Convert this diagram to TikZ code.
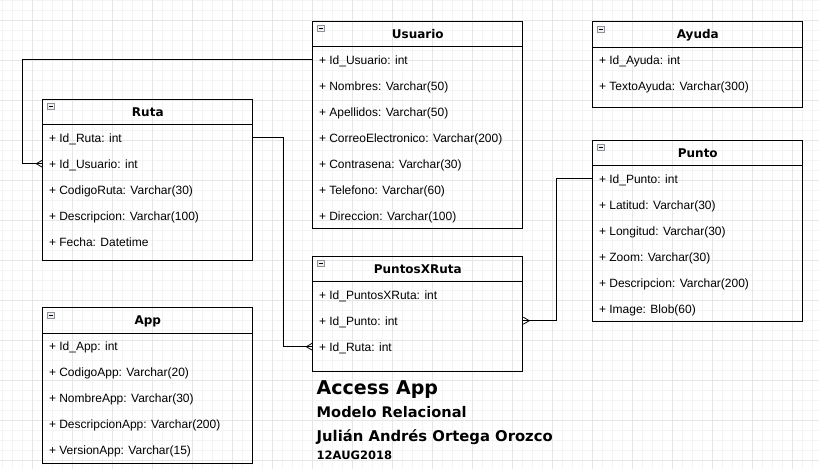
\documentclass[tikz,border=0pt]{standalone}
\usepackage{fontspec}
\setmainfont{Liberation Sans}
\newfontfamily\negrita{DejaVu Sans}

\definecolor{rejilla}{HTML}{F4F4F4}
\definecolor{rejillamayor}{HTML}{E6E6E6}
\definecolor{icono}{HTML}{8C919A}

\tikzset{
  tabla/.style={draw, line width=1pt, anchor=north west, minimum width=210pt, inner sep=0pt},
  cabecera/.style={inner sep=0pt, text height=8.8pt, text depth=0pt,
    font=\negrita\bfseries\fontsize{12pt}{14pt}\selectfont},
  fila/.style={anchor=west, inner sep=0pt, text height=8.6pt, text depth=0pt,
    font=\fontsize{12pt}{14pt}\selectfont},
  titulo/.style={anchor=base west, inner sep=0pt, font=\negrita\bfseries},
  enlace/.style={line width=1pt},
  pata/.pic={\draw[line width=0.8pt] (-6,0) -- (0,-3.5) (-6,0) -- (0,3.5);},
  menos/.pic={\draw[icono, fill=gray!12, line width=0.6pt] (0,0) rectangle (7,6);
    \draw[line width=0.8pt] (1.5,3) -- (5.5,3);}
}

\begin{document}
\begin{tikzpicture}[x=1pt,y=-1pt]
\useasboundingbox (0,0) rectangle (819,469);
\fill[white] (0,0) rectangle (819,469);
% rejilla
\foreach \g in {2,12,...,812} \draw[rejilla, line width=0.8pt] (\g,0) -- (\g,469);
\foreach \g in {0,10,...,460} \draw[rejilla, line width=0.8pt] (0,\g) -- (819,\g);
\foreach \g in {32,72,...,792} \draw[rejillamayor, line width=0.8pt] (\g,0) -- (\g,469);
\foreach \g in {20,60,...,460} \draw[rejillamayor, line width=0.8pt] (0,\g) -- (819,\g);

% Usuario
\node[tabla, minimum height=207.6pt] (usuario) at (312.3,20.7) {};
\draw[line width=1pt] ([yshift=-26pt]usuario.north west) -- ([yshift=-26pt]usuario.north east);
\node[cabecera] (usuario-t) at ([yshift=-13pt]usuario.north) {Usuario};
\pic at ([shift={(5,5)}]usuario.north west) {menos};
\foreach \t [count=\i] in {Id\_Usuario: int, Nombres: Varchar(50), Apellidos: Varchar(50),
  CorreoElectronico: Varchar(200), Contrasena: Varchar(30), Telefono: Varchar(60),
  Direccion: Varchar(100)}
  \node[fila] (usuario-\i) at ([xshift=6.5pt, yshift=13pt-26pt*\i-26pt]usuario.north west) {+ \t};

% Ruta
\node[tabla, minimum height=161.3pt] (ruta) at (42.3,98.7) {};
\draw[line width=1pt] ([yshift=-26pt]ruta.north west) -- ([yshift=-26pt]ruta.north east);
\node[cabecera] (ruta-t) at ([yshift=-13pt]ruta.north) {Ruta};
\pic at ([shift={(5,5)}]ruta.north west) {menos};
\foreach \t [count=\i] in {Id\_Ruta: int, Id\_Usuario: int, CodigoRuta: Varchar(30),
  Descripcion: Varchar(100), Fecha: Datetime}
  \node[fila] (ruta-\i) at ([xshift=6.5pt, yshift=13pt-26pt*\i-26pt]ruta.north west) {+ \t};

% Ayuda
\node[tabla, minimum height=85.7pt] (ayuda) at (592.3,21.3) {};
\draw[line width=1pt] ([yshift=-26pt]ayuda.north west) -- ([yshift=-26pt]ayuda.north east);
\node[cabecera] (ayuda-t) at ([yshift=-13pt]ayuda.north) {Ayuda};
\pic at ([shift={(5,5)}]ayuda.north west) {menos};
\foreach \t [count=\i] in {Id\_Ayuda: int, TextoAyuda: Varchar(300)}
  \node[fila] (ayuda-\i) at ([xshift=6.5pt, yshift=13pt-26pt*\i-26pt]ayuda.north west) {+ \t};

% Punto
\node[tabla, minimum height=181.3pt] (punto) at (592.3,139.7) {};
\draw[line width=1pt] ([yshift=-26pt]punto.north west) -- ([yshift=-26pt]punto.north east);
\node[cabecera] (punto-t) at ([yshift=-13pt]punto.north) {Punto};
\pic at ([shift={(5,5)}]punto.north west) {menos};
\foreach \t [count=\i] in {Id\_Punto: int, Latitud: Varchar(30), Longitud: Varchar(30),
  Zoom: Varchar(30), Descripcion: Varchar(200), Image: Blob(60)}
  \node[fila] (punto-\i) at ([xshift=6.5pt, yshift=13pt-26pt*\i-26pt]punto.north west) {+ \t};

% App
\node[tabla, minimum height=155.7pt] (app) at (42.3,307.3) {};
\draw[line width=1pt] ([yshift=-26pt]app.north west) -- ([yshift=-26pt]app.north east);
\node[cabecera] (app-t) at ([yshift=-13pt]app.north) {App};
\pic at ([shift={(5,5)}]app.north west) {menos};
\foreach \t [count=\i] in {Id\_App: int, CodigoApp: Varchar(20), NombreApp: Varchar(30),
  DescripcionApp: Varchar(200), VersionApp: Varchar(15)}
  \node[fila] (app-\i) at ([xshift=6.5pt, yshift=13pt-26pt*\i-26pt]app.north west) {+ \t};

% PuntosXRuta
\node[tabla, minimum height=115.3pt] (pxr) at (312.3,255.7) {};
\draw[line width=1pt] ([yshift=-26pt]pxr.north west) -- ([yshift=-26pt]pxr.north east);
\node[cabecera] (pxr-t) at ([yshift=-13pt]pxr.north) {PuntosXRuta};
\pic at ([shift={(5,5)}]pxr.north west) {menos};
\foreach \t [count=\i] in {Id\_PuntosXRuta: int, Id\_Punto: int, Id\_Ruta: int}
  \node[fila] (pxr-\i) at ([xshift=6.5pt, yshift=13pt-26pt*\i-26pt]pxr.north west) {+ \t};

% relaciones
\draw[enlace] (usuario.west |- usuario-1) -- ++(-290,0) |- (ruta.west |- ruta-2);
\pic at (ruta.west |- ruta-2) {pata};
\draw[enlace] (ruta.east |- ruta-1) -- ++(30.5,0) |- (pxr.west |- pxr-3);
\pic at (pxr.west |- pxr-3) {pata};
\draw[enlace] (punto.west |- punto-1) -- ++(-35.5,0) |- (pxr.east |- pxr-2);
\pic[rotate=180] at (pxr.east |- pxr-2) {pata};

% titulo
\node[titulo, font=\negrita\bfseries\fontsize{19pt}{22pt}\selectfont] (acceso) at (316.5,394) {Access App};
\node[titulo, font=\negrita\bfseries\fontsize{14.6pt}{17pt}\selectfont] (modelo) at (316.5,417.5) {Modelo Relacional};
\node[titulo, font=\negrita\bfseries\fontsize{14.8pt}{17pt}\selectfont] (autor) at (316.5,441) {Julián Andrés Ortega Orozco};
\node[titulo, font=\negrita\bfseries\fontsize{11.5pt}{13pt}\selectfont] (fecha) at (316.5,459) {12AUG2018};
\end{tikzpicture}
\end{document}
